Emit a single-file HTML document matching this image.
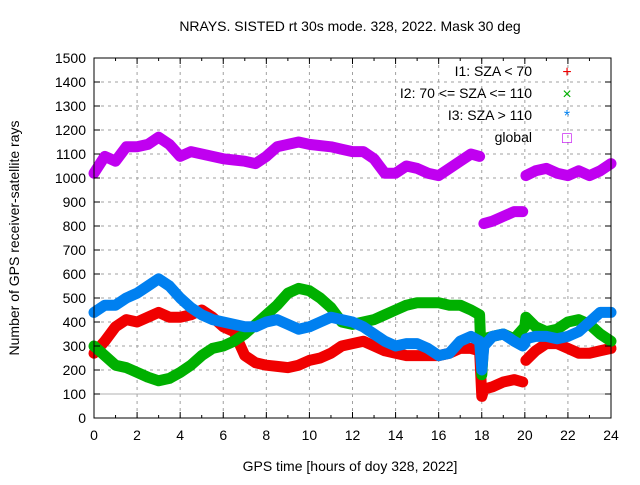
<!DOCTYPE html>
<html><head><meta charset="utf-8"><style>
body{margin:0;background:#fff}
svg{font-family:"Liberation Sans",sans-serif;font-size:14px}
</style></head><body>
<svg id="c" width="640" height="480" viewBox="0 0 640 480">
<text x="350" y="31" text-anchor="middle" font-size="14">NRAYS. SISTED rt 30s mode. 328, 2022. Mask 30 deg</text>
<text transform="translate(19,238) rotate(-90)" text-anchor="middle">Number of GPS receiver-satellite rays</text>
<text x="350" y="471" text-anchor="middle">GPS time [hours of doy 328, 2022]</text>
<g id="grid"></g><g id="series"></g><g id="axes"></g><g id="legend"></g>
</svg>
<script>
const hours = [0,0.5,1,1.5,2,2.5,3,3.5,4,4.5,5,5.5,6,6.5,7,7.5,8,8.5,9,9.5,10,10.5,11,11.5,12,12.5,13,13.5,14,14.5,15,15.5,16,16.5,17,17.5,17.9,18,18.1,18.5,19,19.5,19.9,20.0,20.05,20.5,21,21.5,22,22.5,23,23.5,24];
const globalVals = [1020,1090,1070,1130,1130,1140,1170,1140,1090,1110,1100,1090,1080,1075,1070,1060,1090,1130,1140,1150,1140,1135,1130,1120,1110,1110,1080,1020,1020,1050,1040,1020,1010,1040,1070,1100,1090,null,810,820,840,860,860,null,1010,1030,1040,1020,1010,1030,1010,1030,1060];
const i2Vals = [300,260,220,210,190,170,155,165,190,220,260,290,300,320,350,390,430,470,520,540,530,500,460,400,390,400,410,430,450,470,480,480,480,470,470,450,430,180,330,340,350,330,370,380,420,380,360,370,400,410,390,350,320];
const i3Vals = [440,470,470,500,520,550,580,550,500,460,430,410,400,390,380,380,400,410,390,370,380,400,420,410,400,380,350,320,300,310,310,290,260,270,320,340,320,200,300,340,350,320,300,310,330,340,340,330,340,360,400,440,440];
const i1Vals = [270,320,380,410,400,420,440,420,420,430,450,420,380,360,260,230,220,215,210,220,240,250,270,300,310,320,300,280,270,260,260,260,260,270,290,290,280,90,120,130,150,160,150,null,240,280,310,310,290,270,270,280,290];
const yTicks = [0,100,200,300,400,500,600,700,800,900,1000,1100,1200,1300,1400,1500];
const xTicks = [0,2,4,6,8,10,12,14,16,18,20,22,24];
const X0=94,X1=611,Y0=418,Y1=58;
const sx=h=>X0+(X1-X0)*h/24, sy=v=>Y0-(Y0-Y1)*v/1500;
const NS="http://www.w3.org/2000/svg";
function mk(t,a,p){const e=document.createElementNS(NS,t);for(const k in a)e.setAttribute(k,a[k]);p.appendChild(e);return e;}
const grid=document.getElementById('grid'),axes=document.getElementById('axes'),ser=document.getElementById('series'),leg=document.getElementById('legend');
yTicks.forEach(v=>{
 if(v>0&&v<1500){const l=mk('line',{x1:X0,x2:X1,y1:sy(v),y2:sy(v),stroke:'#a0a0a0','stroke-dasharray':'3,4'},grid);
 
 }
 const t=mk('text',{x:X0-8,y:sy(v)+5,'text-anchor':'end'},axes);t.textContent=v;
 
 
 mk('line',{x1:X0,x2:X0+6,y1:sy(v),y2:sy(v),stroke:'#000'},axes);
 mk('line',{x1:X1,x2:X1-6,y1:sy(v),y2:sy(v),stroke:'#000'},axes);
});
xTicks.forEach(h=>{
 if(h>0&&h<24){const l=mk('line',{x1:sx(h),x2:sx(h),y1:Y0,y2:Y1,stroke:'#a0a0a0','stroke-dasharray':'3,4'},grid);
 
 }
 const t=mk('text',{x:sx(h),y:Y0+22,'text-anchor':'middle'},axes);t.textContent=h;
 
 
 mk('line',{x1:sx(h),x2:sx(h),y1:Y0,y2:Y0-6,stroke:'#000'},axes);
 mk('line',{x1:sx(h),x2:sx(h),y1:Y1,y2:Y1+6,stroke:'#000'},axes);
 if(h<24){mk('line',{x1:sx(h+1),x2:sx(h+1),y1:Y0,y2:Y0-3,stroke:'#000'},axes);mk('line',{x1:sx(h+1),x2:sx(h+1),y1:Y1,y2:Y1+3,stroke:'#000'},axes);}
});
const ref=mk('line',{x1:X0,x2:X1,y1:sy(100),y2:sy(100),stroke:'#b0b0b0'},grid);


const frame=mk('rect',{x:X0,y:Y1,width:X1-X0,height:Y0-Y1,fill:'none',stroke:'#000'},axes);


function draw(vals,color,name){
 let segs=[],cur=[];
 vals.forEach((v,i)=>{if(v===null){if(cur.length)segs.push(cur);cur=[];}else cur.push(sx(hours[i]).toFixed(1)+','+sy(v).toFixed(1));});
 if(cur.length)segs.push(cur);
 segs.forEach(s=>{const p=mk('polyline',{points:s.join(' '),fill:'none',stroke:color,'stroke-width':11,'stroke-linejoin':'round','stroke-linecap':'round'},ser);
 
 });
}
draw(i1Vals,'#f00000','series-i1');
draw(i2Vals,'#00b000','series-i2');
draw(i3Vals,'#0080f0','series-i3');
draw(globalVals,'#c000f0','series-global');
const legendItems=[['I1: SZA < 70','#f00000','+'],['I2: 70 <= SZA <= 110','#00b000','×'],['I3: SZA > 110','#0080f0','*'],['global','#c000f0','□']];
legendItems.forEach((it,i)=>{
 const y=76+i*22;
 const t=mk('text',{x:532,y:y,'text-anchor':'end'},leg);t.textContent=it[0];
 
 
 const m=mk('text',{x:567,y:y+1,'text-anchor':'middle',fill:it[1],'font-size':16},leg);m.textContent=it[2];
 
 
});
</script>
</body></html>
